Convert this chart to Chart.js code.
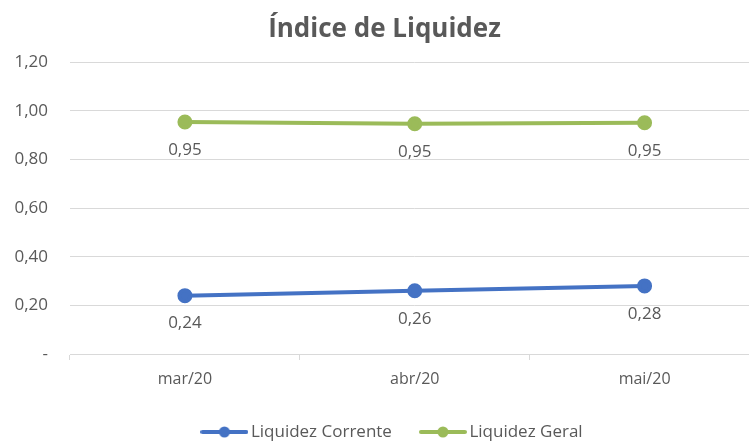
<!DOCTYPE html>
<html>
<head>
<meta charset="utf-8">
<script src="https://cdn.jsdelivr.net/npm/chart.js@4/dist/chart.umd.min.js"></script>
<style>
  html, body { margin: 0; padding: 0; overflow: hidden; background: #fff; }
  canvas { display: block; }
</style>
</head>
<body>
<canvas id="liqChart" width="769" height="441"></canvas>
<script>
// dados do grafico
const months = ['mar/20', 'abr/20', 'mai/20'];
const liqCorrente = [0.24, 0.26, 0.28];
const liqGeral = [0.954, 0.947, 0.951];
const yTicks = [0, 0.2, 0.4, 0.6, 0.8, 1.0, 1.2];

const blue = '#4472C4';
const green = '#9BBB59';
const grey = '#595959';
const font = '"Open Sans", sans-serif';

function fmt(v) {
    return v.toFixed(2).replace('.', ',');
}

// legend marker: line with a dot in the middle
function legendMarker(color) {
    let c = document.createElement('canvas');
    c.width = 48; c.height = 12;
    let g = c.getContext('2d');
    g.strokeStyle = color;
    g.lineWidth = 4;
    g.lineCap = 'round';
    g.beginPath(); g.moveTo(2, 6); g.lineTo(46, 6); g.stroke();
    g.fillStyle = color;
    g.beginPath(); g.arc(24, 6, 5.5, 0, Math.PI * 2); g.fill();
    return c;
}

// value labels under each point
const valueLabels = {
    id: 'valueLabels',
    afterDatasetsDraw(chart) {
        let ctx = chart.ctx;
        ctx.save();
        ctx.font = '17px ' + font;
        ctx.fillStyle = grey;
        ctx.textAlign = 'center';
        ctx.textBaseline = 'middle';
        chart.data.datasets.forEach((ds, i) => {
            chart.getDatasetMeta(i).data.forEach((pt, j) => {
                ctx.fillText(fmt(ds.data[j]), pt.x, pt.y + 28);
            });
        });
        ctx.restore();
    }
};

// keep the legend short so the wide item spacing doesn't eat the plot,
// and nudge it a bit right like in the original
const legendTweak = {
    id: 'legendTweak',
    beforeUpdate(chart) {
        let lg = chart.legend;
        if (lg && !lg._fixed) {
            let fit = lg.fit;
            lg.fit = function () {
                fit.call(this);
                this.height = 50.5;
            };
            lg._fixed = true;
        }
    },
    afterLayout(chart) {
        let lg = chart.legend;
        if (lg) {
            lg.left += 10;
            lg.right += 10;
        }
    }
};

let ctx = document.getElementById('liqChart').getContext('2d');
let liqChart = new Chart(ctx, {
    type: 'line',
    data: {
        labels: months,
        datasets: [
            {
                label: 'Liquidez Corrente',
                data: liqCorrente,
                borderColor: blue,
                backgroundColor: blue,
                borderWidth: 4,
                pointRadius: 5.5,
                pointBackgroundColor: blue,
                pointBorderColor: blue,
                tension: 0
            },
            {
                label: 'Liquidez Geral',
                data: liqGeral,
                borderColor: green,
                backgroundColor: green,
                borderWidth: 4,
                pointRadius: 5.5,
                pointBackgroundColor: green,
                pointBorderColor: green,
                tension: 0
            }
        ]
    },
    options: {
        responsive: false,
        animation: false,
        layout: { padding: 0 },
        plugins: {
            title: {
                display: true,
                text: 'Índice de Liquidez',
                color: grey,
                font: { size: 26, weight: 'bold', family: font },
                padding: { top: 14, bottom: 17 }
            },
            legend: {
                position: 'bottom',
                labels: {
                    usePointStyle: true,
                    pointStyleWidth: 36,
                    color: grey,
                    font: { size: 17, family: font },
                    padding: 33,
                    generateLabels: (chart) => chart.data.datasets.map((ds, i) => ({
                        text: ds.label,
                        fontColor: grey,
                        pointStyle: legendMarker(ds.borderColor),
                        datasetIndex: i,
                        hidden: false
                    }))
                }
            },
            tooltip: { enabled: false }
        },
        scales: {
            x: {
                offset: true,
                border: { display: true, color: '#D9D9D9', width: 1 },
                grid: {
                    offset: true,
                    drawOnChartArea: false,
                    drawTicks: true,
                    tickLength: 6,
                    color: '#D9D9D9'
                },
                ticks: {
                    color: grey,
                    font: { size: 16, family: font },
                    padding: 10
                },
                afterFit: (axis) => { axis.height = 36.5; }
            },
            y: {
                min: 0,
                max: 1.2,
                afterBuildTicks: (axis) => {
                    axis.ticks = yTicks.map(v => ({ value: v }));
                },
                afterFit: (axis) => { axis.width = 70; },
                border: { display: false },
                grid: { color: '#D9D9D9', drawTicks: false },
                ticks: {
                    color: grey,
                    font: { size: 17, family: font },
                    padding: 22,
                    callback: (v) => v === 0 ? '-' : fmt(v)
                }
            }
        }
    },
    plugins: [valueLabels, legendTweak]
});
</script>
</body>
</html>
